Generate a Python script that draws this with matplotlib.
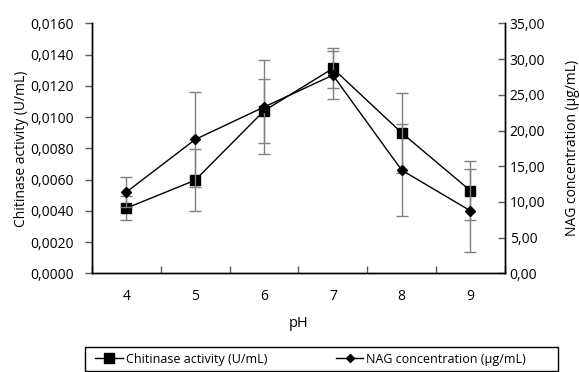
import numpy as np
import matplotlib
matplotlib.use('Agg')
import matplotlib.pyplot as plt
from matplotlib.ticker import FuncFormatter, FixedLocator
from matplotlib.lines import Line2D
from matplotlib.patches import Rectangle

plt.rcParams['font.family'] = ['Open Sans', 'DejaVu Sans']

# data
ph = [4, 5, 6, 7, 8, 9]
chitinase = [0.00418, 0.00597, 0.01041, 0.01312, 0.00900, 0.00529]
chitinase_err = [0.00077, 0.00198, 0.00206, 0.00128, 0.00256, 0.00190]
nag = [11.4, 18.76, 23.3, 27.76, 14.46, 8.76]
nag_err = [2.1, 6.66, 6.6, 3.4, 6.44, 5.81]

fig = plt.figure(figsize=(5.79, 3.72), dpi=100)
ax = fig.add_axes([0.159, 0.265, 0.713, 0.672])
ax2 = ax.twinx()

err_color = '#808080'
ax.errorbar(ph, chitinase, yerr=chitinase_err, fmt='none', ecolor=err_color,
            elinewidth=1, capsize=4, capthick=1, zorder=1)
ax.plot(ph, chitinase, color='black', lw=1, marker='s', ms=7.5, zorder=3)
ax2.errorbar(ph, nag, yerr=nag_err, fmt='none', ecolor=err_color,
             elinewidth=1, capsize=4, capthick=1, zorder=1)
ax2.plot(ph, nag, color='black', lw=1, marker='D', ms=5, zorder=3)

ax.set_xlim(3.5, 9.5)
ax.set_ylim(0, 0.016)
ax2.set_ylim(0, 35)
ax.set_yticks(np.arange(0, 0.0161, 0.002))
ax2.set_yticks(np.arange(0, 35.1, 5))
ax.yaxis.set_major_formatter(FuncFormatter(lambda v, p: ('%.4f' % v).replace('.', ',')))
ax2.yaxis.set_major_formatter(FuncFormatter(lambda v, p: ('%.2f' % v).replace('.', ',')))

ax.set_xticks(ph)
ax.xaxis.set_minor_locator(FixedLocator(np.arange(3.5, 9.6, 1.0)))
ax.tick_params(axis='x', which='major', length=0, pad=11, labelsize=10)
ax.tick_params(axis='x', which='minor', direction='in', length=5, width=1, color='#595959')
ax.tick_params(axis='y', direction='out', length=5, width=1, color='#595959', labelsize=10, pad=8)
ax2.tick_params(axis='y', direction='in', length=5, width=1, color='#595959', labelsize=10)

for a in (ax, ax2):
    a.spines['top'].set_visible(False)
    for s in ('left', 'right', 'bottom'):
        a.spines[s].set_color('#000000')
        a.spines[s].set_linewidth(1)

ax.set_xlabel('pH', fontsize=10.5, labelpad=9)
ax.set_ylabel('Chitinase activity (U/mL)', fontsize=10, labelpad=1)
ax2.set_ylabel('NAG concentration (µg/mL)', fontsize=10, labelpad=14)

# legend: box drawn on its own, entries placed inside it
fig.patches.append(Rectangle((85 / 579, 1 / 372), 473 / 579, 24 / 372, transform=fig.transFigure,
                             fill=False, edgecolor='black', lw=1))
handles = [Line2D([], [], color='black', lw=1, marker='s', ms=6.5),
           Line2D([], [], color='black', lw=1, marker='D', ms=4)]
labels = ['Chitinase activity (U/mL)', 'NAG concentration (µg/mL)']
leg = fig.legend(handles, labels, loc='center left', bbox_to_anchor=(95 / 579, 13 / 372),
                 ncol=2, frameon=False, fontsize=9, handlelength=2.2,
                 handletextpad=0.25, columnspacing=5.5, borderpad=0.0, borderaxespad=0.0)

fig.savefig('out.png', dpi=100)
